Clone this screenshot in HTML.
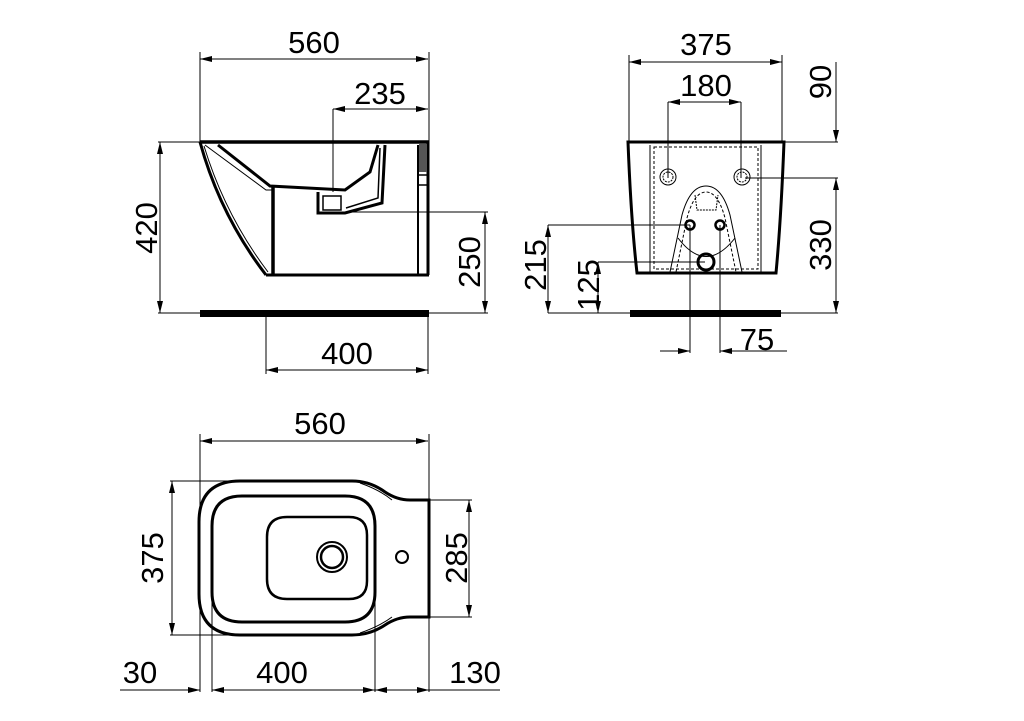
<!DOCTYPE html>
<html><head><meta charset="utf-8"><style>
html,body{margin:0;padding:0;background:#fff;}
svg{display:block;}
text{font-family:"Liberation Sans",Arial,sans-serif;font-size:31px;fill:#000;}
</style></head><body>
<svg width="1024" height="721" viewBox="0 0 1024 721" xmlns="http://www.w3.org/2000/svg">
<defs>
<marker id="a" viewBox="0 0 12 6" refX="12" refY="3" markerWidth="12" markerHeight="6" orient="auto-start-reverse" markerUnits="userSpaceOnUse"><path d="M0,0 L12,3 L0,6 z" fill="#000"/></marker>
</defs>
<g stroke="#000" stroke-width="1" fill="none">
<line x1="200" y1="59" x2="428" y2="59" marker-start="url(#a)" marker-end="url(#a)"/>
<line x1="200" y1="52" x2="200" y2="142"/><line x1="429" y1="52" x2="429" y2="142"/>
<line x1="333" y1="109" x2="428" y2="109" marker-start="url(#a)" marker-end="url(#a)"/>
<line x1="333" y1="109" x2="333" y2="192"/>
<line x1="160" y1="142" x2="160" y2="313" marker-start="url(#a)" marker-end="url(#a)"/>
<line x1="158" y1="142" x2="200" y2="142"/><line x1="158" y1="313" x2="200" y2="313"/>
<line x1="345" y1="212" x2="488" y2="212"/><line x1="429" y1="313" x2="488" y2="313"/>
<line x1="485" y1="212" x2="485" y2="313" marker-start="url(#a)" marker-end="url(#a)"/>
<line x1="266" y1="313" x2="266" y2="374"/><line x1="428" y1="313" x2="428" y2="374"/>
<line x1="266" y1="370" x2="428" y2="370" marker-start="url(#a)" marker-end="url(#a)"/>
</g>
<g stroke="#000" fill="none">
<line x1="200" y1="142" x2="429" y2="142" stroke-width="3.5"/>
<path d="M200,142 Q220,215 266,275" stroke-width="3"/>
<path d="M204,146 Q225,215 268,272" stroke-width="1"/>
<line x1="266" y1="275" x2="429" y2="275" stroke-width="3"/>
<line x1="428" y1="142" x2="428" y2="275" stroke-width="3"/>
<line x1="418" y1="145" x2="418" y2="275" stroke-width="2"/>
<rect x="419" y="144" width="8" height="28" fill="#555" stroke="none"/>
<line x1="418" y1="175" x2="428" y2="175" stroke-width="1.5"/>
<line x1="418" y1="185" x2="428" y2="185" stroke-width="1.5"/>
<path d="M218,145 L270,186 L345,190 L370,172 L378,145" stroke-width="3"/>
<path d="M205,145 L266,190 L273,190" stroke-width="1"/>
<line x1="273" y1="187" x2="273" y2="275" stroke-width="3.5"/>
<path d="M318,192 L318,213 L345,213 L382,203 L385,145" stroke-width="3"/>
<rect x="323" y="196" width="18" height="14" stroke-width="1.5"/>
<path d="M346,208 L378,198 L380,148" stroke-width="1.5"/>
</g>
<rect x="200" y="310" width="229" height="7" fill="#000"/>
<text x="314" y="53" text-anchor="middle">560</text>
<text x="380" y="104" text-anchor="middle">235</text>
<text x="347" y="364" text-anchor="middle">400</text>
<text transform="translate(157,228) rotate(-90)" text-anchor="middle">420</text>
<text transform="translate(480,262) rotate(-90)" text-anchor="middle">250</text>

<g stroke="#000" stroke-width="1" fill="none">
<line x1="629" y1="62" x2="782" y2="62" marker-start="url(#a)" marker-end="url(#a)"/>
<line x1="629" y1="55" x2="629" y2="142"/><line x1="782" y1="55" x2="782" y2="142"/>
<line x1="668" y1="102" x2="741" y2="102" marker-start="url(#a)" marker-end="url(#a)"/>
<line x1="668" y1="102" x2="668" y2="178"/><line x1="741" y1="102" x2="741" y2="178"/>
<line x1="836" y1="62" x2="836" y2="142" marker-end="url(#a)"/>
<line x1="783" y1="142" x2="838" y2="142"/>
<line x1="745" y1="178" x2="838" y2="178"/>
<line x1="836" y1="178" x2="836" y2="313" marker-start="url(#a)" marker-end="url(#a)"/>
<line x1="548" y1="313" x2="838" y2="313"/>
<line x1="548" y1="225" x2="690" y2="225"/>
<line x1="548" y1="225" x2="548" y2="313" marker-start="url(#a)" marker-end="url(#a)"/>
<line x1="598" y1="262" x2="705" y2="262"/>
<line x1="598" y1="262" x2="598" y2="313" marker-start="url(#a)" marker-end="url(#a)"/>
<line x1="690" y1="225" x2="690" y2="353"/><line x1="720" y1="225" x2="720" y2="353"/>
<line x1="660" y1="351" x2="690" y2="351" marker-end="url(#a)"/>
<line x1="787" y1="351" x2="720" y2="351" marker-end="url(#a)"/>
</g>
<g stroke="#000" fill="none">
<path d="M628,142 L784,142 Q781,220 776,273 L637,273 Q631,220 628,142 Z" stroke-width="3"/>
<line x1="650" y1="145" x2="650" y2="272" stroke-width="1"/>
<line x1="761" y1="145" x2="761" y2="272" stroke-width="1"/>
<rect x="654" y="147" width="104" height="122" stroke-width="1" stroke-dasharray="3,2"/>
<circle cx="668" cy="177" r="8" stroke-width="1"/><circle cx="668" cy="177" r="5" stroke-width="1" stroke-dasharray="2,1"/>
<circle cx="742" cy="177" r="8" stroke-width="1"/><circle cx="742" cy="177" r="5" stroke-width="1" stroke-dasharray="2,1"/>
<path d="M670,272 L682,215 Q690,186 706,186 Q722,186 730,215 L742,272" stroke-width="1"/>
<path d="M676,272 L687,218 Q694,192 706,192 Q718,192 725,218 L736,272" stroke-width="1" stroke-dasharray="3,2"/>
<path d="M695,195 L697,210 L716,210 L718,195" stroke-width="1" stroke-dasharray="2,1"/>
<path d="M678,238 Q706,275 735,238" stroke-width="1"/>
<circle cx="690" cy="225" r="4.5" stroke-width="2.5"/>
<circle cx="720" cy="225" r="4.5" stroke-width="2.5"/>
<circle cx="706" cy="262" r="8" stroke-width="3"/>
</g>
<rect x="630" y="310" width="151" height="7" fill="#000"/>
<text x="706" y="55" text-anchor="middle">375</text>
<text x="706" y="96" text-anchor="middle">180</text>
<text x="757" y="350" text-anchor="middle">75</text>
<text transform="translate(831,82) rotate(-90)" text-anchor="middle">90</text>
<text transform="translate(831,245) rotate(-90)" text-anchor="middle">330</text>
<text transform="translate(546,265) rotate(-90)" text-anchor="middle">215</text>
<text transform="translate(599,285) rotate(-90)" text-anchor="middle">125</text>

<g stroke="#000" stroke-width="1" fill="none">
<line x1="200" y1="441" x2="428" y2="441" marker-start="url(#a)" marker-end="url(#a)"/>
<line x1="200" y1="434" x2="200" y2="692"/><line x1="429" y1="434" x2="429" y2="692"/>
<line x1="170" y1="481" x2="240" y2="481"/><line x1="170" y1="635" x2="240" y2="635"/>
<line x1="172" y1="481" x2="172" y2="635" marker-start="url(#a)" marker-end="url(#a)"/>
<line x1="429" y1="500" x2="472" y2="500"/><line x1="429" y1="617" x2="472" y2="617"/>
<line x1="469" y1="500" x2="469" y2="617" marker-start="url(#a)" marker-end="url(#a)"/>
<line x1="212" y1="600" x2="212" y2="692"/><line x1="375" y1="600" x2="375" y2="692"/>
<line x1="120" y1="690" x2="200" y2="690" marker-end="url(#a)"/>
<line x1="212" y1="690" x2="375" y2="690" marker-start="url(#a)" marker-end="url(#a)"/>
<line x1="375" y1="690" x2="429" y2="690" marker-start="url(#a)" marker-end="url(#a)"/>
<line x1="429" y1="690" x2="500" y2="690"/>
</g>
<g stroke="#000" fill="none">
<path d="M240,481 L352,481 Q370,481 385,492 Q397,500 410,500 L429,500 L429,617 L410,617 Q397,617 385,625 Q370,635 352,635 L240,635 Q199,635 199,594 L199,522 Q199,481 240,481 Z" stroke-width="3"/>
<path d="M360,483 Q380,490 392,500" stroke-width="1"/>
<path d="M360,633 Q380,626 392,617" stroke-width="1"/>
<path d="M242,496 L345,496 Q375,496 375,526 L375,592 Q375,622 345,622 L242,622 Q212,622 212,592 L212,526 Q212,496 242,496 Z" stroke-width="3"/>
<path d="M287,517 L349,517 Q367,517 367,535 L367,581 Q367,599 349,599 L287,599 Q267,599 267,579 L267,537 Q267,517 287,517 Z" stroke-width="2.5"/>
<circle cx="332" cy="557" r="15" stroke-width="2"/>
<circle cx="332" cy="557" r="11" stroke-width="2.5"/>
<circle cx="402" cy="557" r="6" stroke-width="2"/>
</g>
<text x="320" y="434" text-anchor="middle">560</text>
<text x="140" y="683" text-anchor="middle">30</text>
<text x="282" y="683" text-anchor="middle">400</text>
<text x="475" y="683" text-anchor="middle">130</text>
<text transform="translate(163,558) rotate(-90)" text-anchor="middle">375</text>
<text transform="translate(467,558) rotate(-90)" text-anchor="middle">285</text>
</svg>
</body></html>
